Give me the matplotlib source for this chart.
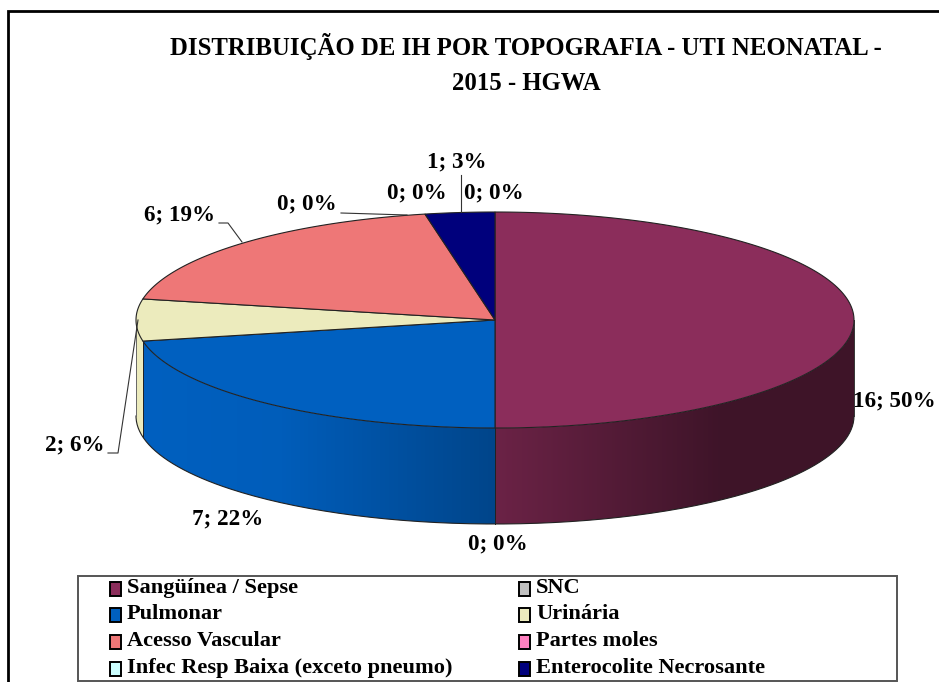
import numpy as np
import matplotlib
matplotlib.use('Agg')
import matplotlib.pyplot as plt
from matplotlib.colors import to_rgb
from matplotlib.patches import Polygon, Rectangle

# === Data ===
categories = ['Sangüínea / Sepse', 'SNC', 'Pulmonar', 'Urinária', 'Acesso Vascular',
              'Partes moles', 'Infec Resp Baixa (exceto pneumo)', 'Enterocolite Necrosante', '']
values = [16, 0, 7, 2, 6, 0, 0, 1, 0]
colors = ['#8b2d5b', '#c0c0c0', '#0060c0', '#ecebbd', '#ee7777', '#ff80c0', '#ccffff', '#00007c', '#999999']
title = 'DISTRIBUIÇÃO DE IH POR TOPOGRAFIA - UTI NEONATAL -\n2015 - HGWA'

# pie geometry in pixels
cx, cy = 495, 320
rx, ry = 359, 108
depth = 96

plt.rcParams['font.family'] = ['Liberation Serif', 'DejaVu Serif']
fig = plt.figure(figsize=(9.39, 6.82), dpi=100)
ax = fig.add_axes([0, 0, 1, 1])
ax.axis('off')


def rim(t):
    # t is clockwise from the top, in radians
    return cx + rx * np.sin(t), cy - ry * np.cos(t)


def wall_shade(x):
    # wall darkens towards the lower right, flat at both ends
    return np.interp(x, [cx - rx, 280, cx, cx + 1, 720, cx + rx], [1.0, 0.97, 0.72, 0.77, 0.45, 0.45])


edges = np.deg2rad(np.concatenate([[0], np.cumsum(values)]) / sum(values) * 360)

# === Side wall, only the front half shows ===
for i, v in enumerate(values):
    t0, t1 = max(edges[i], np.pi / 2), min(edges[i + 1], 3 * np.pi / 2)
    if v == 0 or t1 <= t0:
        continue
    ts = np.linspace(t0, t1, 150)
    xs, ys = rim(ts)
    outline = np.column_stack([np.r_[xs, xs[::-1]], np.r_[ys, ys[::-1] + depth]])
    x0, x1 = xs.min(), xs.max()
    grid = np.linspace(x0, x1, 400)
    base = np.array(to_rgb(colors[i]))
    if i == 3:
        img = np.tile(base, (1, 400, 1))  # the small sliver stays flat
    else:
        shades = wall_shade(grid)
        if i == 0:
            shades = np.maximum(shades, 0.45)
        img = (base[None, None, :] * shades[None, :, None]).clip(0, 1)
    im = ax.imshow(img, extent=(x0, x1, ys.max() + depth, ys.min()), aspect='auto',
                   interpolation='bilinear', zorder=2)
    clip = Polygon(outline, closed=True, transform=ax.transData, fc='none', ec='none')
    ax.add_patch(clip)
    im.set_clip_path(clip)

ax.set_xlim(0, 939)
ax.set_ylim(682, 0)

# outline of the wall
ts = np.linspace(np.pi / 2, 3 * np.pi / 2, 200)
xs, ys = rim(ts)
ax.plot(xs, ys + depth, color='#222222', lw=0.8, zorder=3)
ax.plot([cx + rx, cx + rx], [cy, cy + depth], color='#333333', lw=0.7, zorder=3)
ax.plot([cx - rx, cx - rx], [cy, cy + depth], color='#666666', lw=0.7, zorder=3)
for e in edges:
    if np.pi / 2 < e < 3 * np.pi / 2:
        xe, ye = rim(e)
        ax.plot([xe, xe], [ye, ye + depth], color='#222222', lw=0.7, zorder=3)

# === Top face ===
for i, v in enumerate(values):
    if v == 0:
        continue
    ts = np.linspace(edges[i], edges[i + 1], 150)
    xs, ys = rim(ts)
    pts = np.column_stack([np.r_[cx, xs], np.r_[cy, ys]])
    ax.add_patch(Polygon(pts, closed=True, fc=colors[i], ec='#222222', lw=0.8, zorder=4))

# === Data labels ===
label_pos = [(894, 401), (498, 544), (228, 519), (75, 445), (179, 215),
             (307, 204), (417, 193), (457, 162), (494, 193)]
for v, (lx, ly) in zip(values, label_pos):
    ax.text(lx, ly, f'{v}; {round(v / sum(values) * 100)}%', ha='center', va='center',
            fontsize=16.7, fontweight='bold', color='black', zorder=6)

# leader lines
leaders = [[(108, 453), (118, 453), (138, 320)],
           [(219, 223), (228, 223), (242, 242)],
           [(341, 213), (407, 215)],
           [(461, 175), (461, 212)]]
for line in leaders:
    lx, ly = zip(*line)
    ax.plot(lx, ly, color='#333333', lw=0.8, zorder=5)

# === Title ===
ax.text(526, 64, title, ha='center', va='center', fontsize=17.8, fontweight='bold',
        linespacing=1.65, color='black')

# === Legend, cut by the bottom of the picture ===
ax.add_patch(Rectangle((78, 576), 819, 105, fc='white', ec='#555555', lw=1.4, zorder=1))
legend_cols = [110, 519]
legend_rows = [589, 615, 642, 669]
for i, name in enumerate(categories[:8]):
    x = legend_cols[i % 2]
    y = legend_rows[i // 2]
    ax.add_patch(Rectangle((x, y - 7), 11, 14, fc=colors[i], ec='black', lw=1.4, zorder=6))
    ax.text(x + 17, y - 1, name, ha='left', va='center', fontsize=16.1, fontweight='bold', zorder=6)

# === Screenshot frame ===
ax.plot([8, 8, 939], [682, 11, 11], color='black', lw=2, solid_joinstyle='miter', zorder=7)

fig.savefig('out.png', dpi=100)
